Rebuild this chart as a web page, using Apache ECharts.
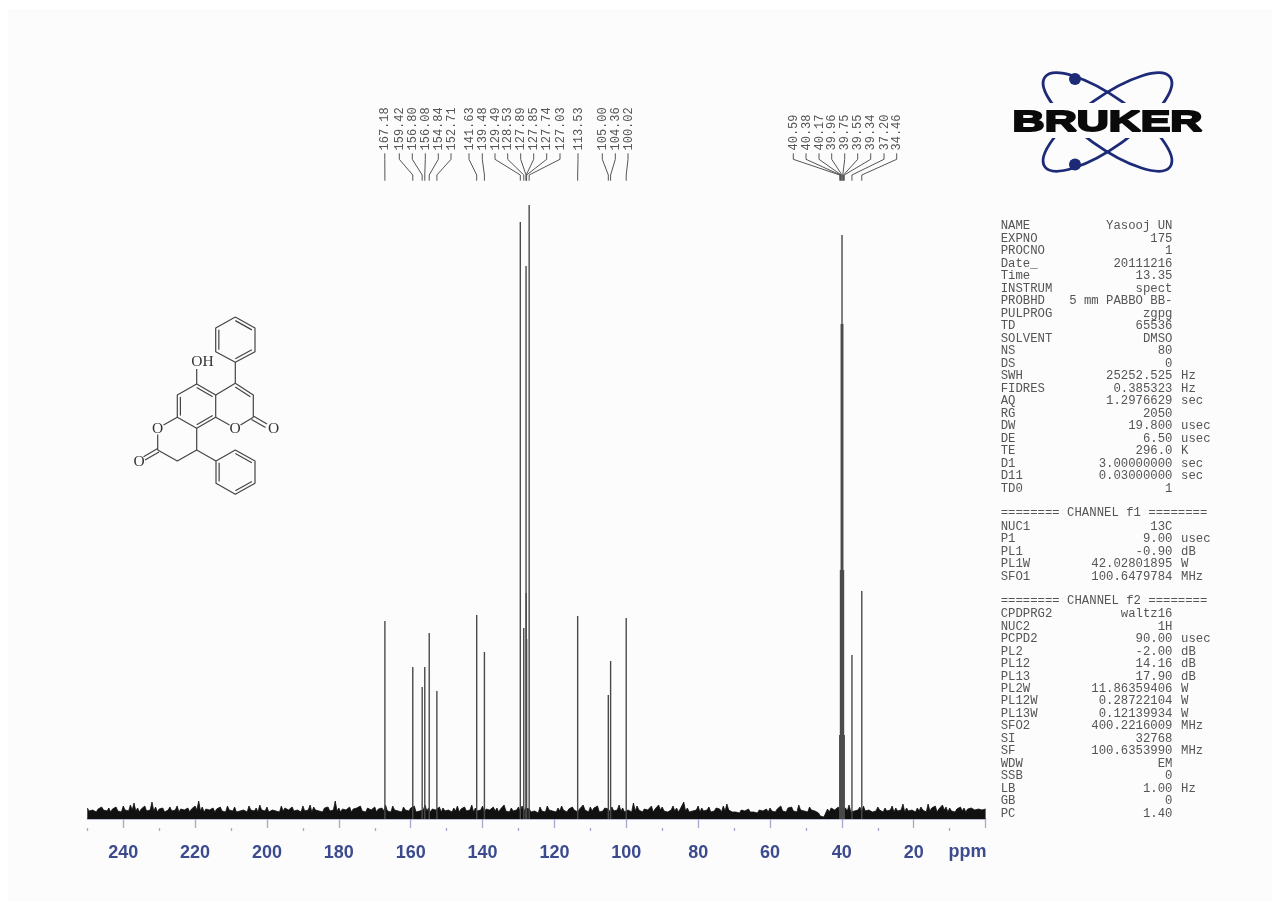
<!DOCTYPE html>
<html><head><meta charset="utf-8"><title>13C NMR</title>
<style>html,body{margin:0;padding:0;background:#fff}#c{width:1281px;height:911px}</style>
<script src="https://cdn.jsdelivr.net/npm/echarts@6/dist/echarts.min.js"></script>
</head><body><div id="c"></div>
<script>
// ---------- data ----------
const tickValues = [0,20,40,60,80,100,120,140,160,180,200,220,240];
const minorTickValues = [10,30,50,70,90,110,130,150,170,190,210,230,250];
const peakPpm = [167.18,159.42,156.80,156.08,154.84,152.71,141.63,139.48,129.49,128.53,127.89,127.85,127.74,127.03,113.53,105.00,104.36,100.02,40.59,40.38,40.17,39.96,39.75,39.55,39.34,37.20,34.46];
const peakHeight = [198,152,132,152,186,128,204,167,597,191,553,226,180,614,203,124,158,201,84,249,495,584,495,249,84,164,228];
// noise envelope, one reading per ppm from 250 down to 0
const noise = [
11,9,11,10,12,9,11,10,12,10, 13,11,14,16,11,10,13,10,17,12,
10,11,9,12,10,13,10,9,11,10, 13,18,12,10,9,11,10,12,9,13,
10,12,9,10,11,13,10,11,14,10, 12,9,11,10,13,11,9,12,10,11,
13,10,14,12,10,9,11,12,10,18, 11,10,9,12,10,11,13,10,11,9,
12,10,11,14,10,13,11,9,12,10, 11,13,9,10,14,11,10,9,12,11,
10,9,11,13,10,12,9,14,11,10, 13,10,9,12,11,10,14,10,11,9,
12,13,11,10,9,8,12,10,13,9, 10,11,13,9,10,12,11,10,14,10,
12,11,13,9,11,10,12,10,14,11, 9,10,16,13,11,10,9,13,10,14,
12,10,9,13,11,10,17,11,9,10, 13,11,10,12,9,11,10,13,15,10,
9,8,9,8,10,9,8,9,8,10, 11,9,10,13,9,11,12,10,14,11,
9,12,10,10,3,2,10,11,9,12, 10,11,14,9,10,12,13,10,11,9,
12,10,11,9,13,11,10,15,11,10, 9,11,12,10,15,11,13,10,14,12,
11,9,10,12,11,10,11,9,10,9,10];
// troughs of the noise, readings between the ppm steps above
const noiseTrough = [
8,9,7,8,9,8,7,9,8,7, 9,8,9,8,7,9,8,9,8,7,
8,7,9,8,9,7,8,9,7,8, 9,8,7,8,9,7,9,8,7,9,
8,7,8,9,7,9,8,7,9,8, 7,9,8,7,8,9,7,8,9,7,
8,9,7,9,8,7,9,8,9,8, 7,8,9,7,8,9,8,7,9,8,
7,9,8,8,7,9,8,7,9,8, 9,7,8,9,8,7,8,9,7,8,
9,7,8,7,9,8,9,7,8,9, 7,8,9,8,7,9,8,7,8,9,
7,8,9,7,8,6,8,7,9,8, 7,8,9,7,8,9,7,8,9,7,
8,9,7,8,9,7,8,9,8,7, 9,7,8,9,7,8,9,7,8,9,
8,7,9,8,7,9,8,7,8,9, 7,8,9,7,8,9,7,8,9,7,
7,6,7,6,7,7,6,7,6,7, 8,7,9,8,7,9,8,7,9,8,
7,9,8,6,2,2,7,9,8,7, 9,8,7,8,9,7,8,9,7,8,
9,7,8,9,7,8,9,7,8,9, 7,8,9,7,8,9,7,8,9,7,
8,7,9,8,7,8,9,7,8,7];
const labelText = ['167.18','159.42','156.80','156.08','154.84','152.71','141.63','139.48','129.49','128.53','127.89','127.85','127.74','127.03','113.53','105.00','104.36','100.02','40.59','40.38','40.17','39.96','39.75','39.55','39.34','37.20','34.46'];
const params1 = [['NAME','Yasooj UN',''],['EXPNO','175',''],['PROCNO','1',''],['Date_','20111216',''],['Time','13.35',''],['INSTRUM','spect',''],['PROBHD','5 mm PABBO BB-',''],['PULPROG','zgpg',''],['TD','65536',''],['SOLVENT','DMSO',''],['NS','80',''],['DS','0',''],['SWH','25252.525','Hz'],['FIDRES','0.385323','Hz'],['AQ','1.2976629','sec'],['RG','2050',''],['DW','19.800','usec'],['DE','6.50','usec'],['TE','296.0','K'],['D1','3.00000000','sec'],['D11','0.03000000','sec'],['TD0','1','']];
const params2 = [['NUC1','13C',''],['P1','9.00','usec'],['PL1','-0.90','dB'],['PL1W','42.02801895','W'],['SFO1','100.6479784','MHz']];
const params3 = [['CPDPRG2','waltz16',''],['NUC2','1H',''],['PCPD2','90.00','usec'],['PL2','-2.00','dB'],['PL12','14.16','dB'],['PL13','17.90','dB'],['PL2W','11.86359406','W'],['PL12W','0.28722104','W'],['PL13W','0.12139934','W'],['SFO2','400.2216009','MHz'],['SI','32768',''],['SF','100.6353990','MHz'],['WDW','EM',''],['SSB','0',''],['LB','1.00','Hz'],['GB','0',''],['PC','1.40','']];

// ---------- layout (not data) ----------
const labelPx = [384.8,399.3,412.3,425.3,438.3,451,469,482.3,495,507.7,520.7,533.7,546.7,560,578,602.3,615.3,628,793.3,806,819,831.7,844.7,857.7,870.7,884,896.7];
const INK = '#555', BLUE = '#3c4a8e', AX = '#a4a8cc', MONO = '"Liberation Mono", monospace';

const noiseSeries = [];
noise.forEach((v, i) => { noiseSeries.push([250 - i, v]); if (i < noiseTrough.length) noiseSeries.push([249.5 - i, noiseTrough[i]]); });
const peakData = peakPpm.map((p, i) => [p, peakHeight[i]]);
const labelData = peakPpm.map((p, i) => [p, 0, i]);

// ---------- graphic helpers ----------
const g = [];
g.push({type:'rect', shape:{x:8,y:9,width:1264,height:892}, style:{fill:'#fcfcfc'}, silent:true});
function poly(points, color, lw){ g.push({type:'polyline', shape:{points}, style:{fill:null, stroke:color||'#444', lineWidth:lw||1.2, lineJoin:'round'}}); }
function txt(x, y, text, font, fill, align){ g.push({type:'text', x, y, style:{text, font, fill, textAlign:align||'left', textVerticalAlign:'middle'}}); }
function inner(a, b, c){ const f=.84; poly([[c[0]+(a[0]-c[0])*f, c[1]+(a[1]-c[1])*f],[c[0]+(b[0]-c[0])*f, c[1]+(b[1]-c[1])*f]]); }

// parameter panel
const rowH = 12.5;
function block(rows, y0, h){ rows.forEach((r,i)=>{ const y=y0+i*h, f='12.3px '+MONO;
  txt(1000.7,y,r[0],f,INK); txt(1172.5,y,r[1],f,INK,'right'); if(r[2]) txt(1181,y,r[2],f,INK); }); }
block(params1,226,rowH);
txt(1000.7,513,'======== CHANNEL f1 ========','12.3px '+MONO,INK);
block(params2,526.7,12.4);
txt(1000.7,601,'======== CHANNEL f2 ========','12.3px '+MONO,INK);
block(params3,614,12.46);

// logo
g.push({type:'ellipse',x:1107.5,y:122,rotation:-0.62,shape:{cx:0,cy:0,rx:77,ry:25},style:{fill:null,stroke:'#1c2a78',lineWidth:2.8}});
g.push({type:'ellipse',x:1107.5,y:122,rotation:0.62,shape:{cx:0,cy:0,rx:77,ry:25},style:{fill:null,stroke:'#1c2a78',lineWidth:2.8}});
g.push({type:'circle',shape:{cx:1075,cy:79,r:6},style:{fill:'#1c2a78'}});
g.push({type:'circle',shape:{cx:1075,cy:164.5,r:6},style:{fill:'#1c2a78'}});
g.push({type:'rect',shape:{x:1010,y:103,width:196,height:35},style:{fill:'#fcfcfc'}});
g.push({type:'text',x:1107.5,y:123,scaleX:1.53,scaleY:1,originX:0,originY:0,style:{text:'BRUKER',font:'900 29px "Liberation Sans", Arial, sans-serif',fill:'#0a0a0a',stroke:'#0a0a0a',lineWidth:1.8,textAlign:'center',textVerticalAlign:'middle'}});

// molecule
const U=[235.3,317],R1=[255,328],R2=[255,351.7],B=[235.3,362.3],L2=[215.7,351.7],L1=[215.7,328],TC=[235.3,339.7];
poly([U,R1,R2,B,L2,L1,U]); inner(L1,L2,TC); inner(U,R1,TC); inner(R2,B,TC);
const C4=[235.3,383.3],C3=[253.3,395],C2=[253.3,417.3],C4a=[215.7,395],C8a=[215.7,417.3],C5=[196.7,384],C6=[177.3,395],C7=[177.3,417.3],C8=[196.7,428.3],RC=[196.7,406.5],PC=[235,406];
poly([B,C4]); poly([C4,C3,C2]); poly([C4,C4a]); inner(C4,C3,PC);
poly([C2,[240.5,425]]); poly([C8a,[229.5,425]]);
poly([[253.3,416],[267,424]]); poly([[251.5,419.5],[265.5,427.5]]);
poly([C5,C4a,C8a,C8,C7,C6,C5]); inner(C5,C4a,RC); inner(C8a,C8,RC); inner(C7,C6,RC);
poly([C5,[196.7,369]]);
poly([C7,[163.5,425]]); poly([[157.7,434.5],[157.7,450]]);
const Cl=[157.7,450],CH2=[177.3,461],CH=[196.7,450];
poly([Cl,CH2,CH,C8]); poly([[157.7,448.5],[143.5,456.7]]); poly([[159,452],[145,460]]);
const A=[216,461],Bb=[235.3,450],Cc=[255,461],D=[255,483.3],E=[235.3,494.3],F=[216,483.3],LC=[235.5,472.2];
poly([CH,A]); poly([A,Bb,Cc,D,E,F,A]); inner(Bb,Cc,LC); inner(D,E,LC); inner(F,A,LC);
const serif='15.5px "Liberation Serif", serif';
txt(202.5,362,'OH',serif,'#333','center'); txt(235,428.5,'O',serif,'#333','center'); txt(157.7,428.5,'O',serif,'#333','center');
txt(273.5,428.5,'O',serif,'#333','center'); txt(139,461.5,'O',serif,'#333','center');
// ppm unit
txt(986.5,852.5,'ppm','bold 18px "Liberation Sans", Arial, sans-serif',BLUE,'right');

// ---------- chart ----------
const chart = echarts.init(document.getElementById('c'), null, {renderer:'canvas'});
const baseAxis = {type:'value', min:0, max:250, inverse:true, position:'bottom', offset:9, splitLine:{show:false}};
chart.setOption({
  animation:false,
  backgroundColor:'#ffffff',
  grid:{left:87.3, width:898.3, top:199, height:620, containLabel:false},
  xAxis:[
    Object.assign({}, baseAxis, {
      axisLine:{show:true, lineStyle:{color:AX, width:1.5}},
      axisTick:{show:true, length:9, customValues:tickValues, lineStyle:{color:AX, width:1.3}},
      axisLabel:{show:true, margin:16, customValues:tickValues.filter(v=>v>0), color:BLUE, fontFamily:'"Liberation Sans", Arial, sans-serif', fontWeight:'bold', fontSize:18}
    }),
    Object.assign({}, baseAxis, {
      axisLine:{show:false},
      axisTick:{show:true, length:3, customValues:minorTickValues, lineStyle:{color:AX, width:1.3}},
      axisLabel:{show:false}
    })
  ],
  yAxis:{type:'value', min:0, max:620, show:false, splitLine:{show:false}},
  graphic:{elements:g},
  series:[
    {type:'line', name:'noise', data:noiseSeries, showSymbol:false, symbol:'none', sampling:false, lineStyle:{color:'#111', width:0.8}, areaStyle:{color:'#111', opacity:1}, z:3, silent:true},
    {type:'custom', name:'peaks', data:peakData, encode:{x:0,y:1}, z:4, silent:true, clip:false,
      renderItem:(p,api)=>{ const a=api.coord([api.value(0),0]), b=api.coord([api.value(0),api.value(1)]);
        return {type:'line', shape:{x1:a[0],y1:a[1],x2:b[0],y2:b[1]}, style:{stroke:'#4a4a4a', lineWidth:1.4}}; }},
    {type:'custom', name:'labels', data:labelData, encode:{x:0,y:1}, z:5, silent:true, clip:false,
      renderItem:(p,api)=>{ const i=api.value(2), lx=labelPx[i], px=api.coord([api.value(0),0])[0];
        return {type:'group', children:[
          {type:'polyline', shape:{points:[[lx,153.3],[lx,159.3],[px,175],[px,180.7]]}, style:{fill:null, stroke:'#555', lineWidth:1}},
          {type:'text', x:lx+0.5, y:150.5, rotation:Math.PI/2, style:{text:labelText[i], font:'12px '+MONO, fill:'#555', textAlign:'left', textVerticalAlign:'middle'}}
        ]}; }}
  ]
});
</script></body></html>
